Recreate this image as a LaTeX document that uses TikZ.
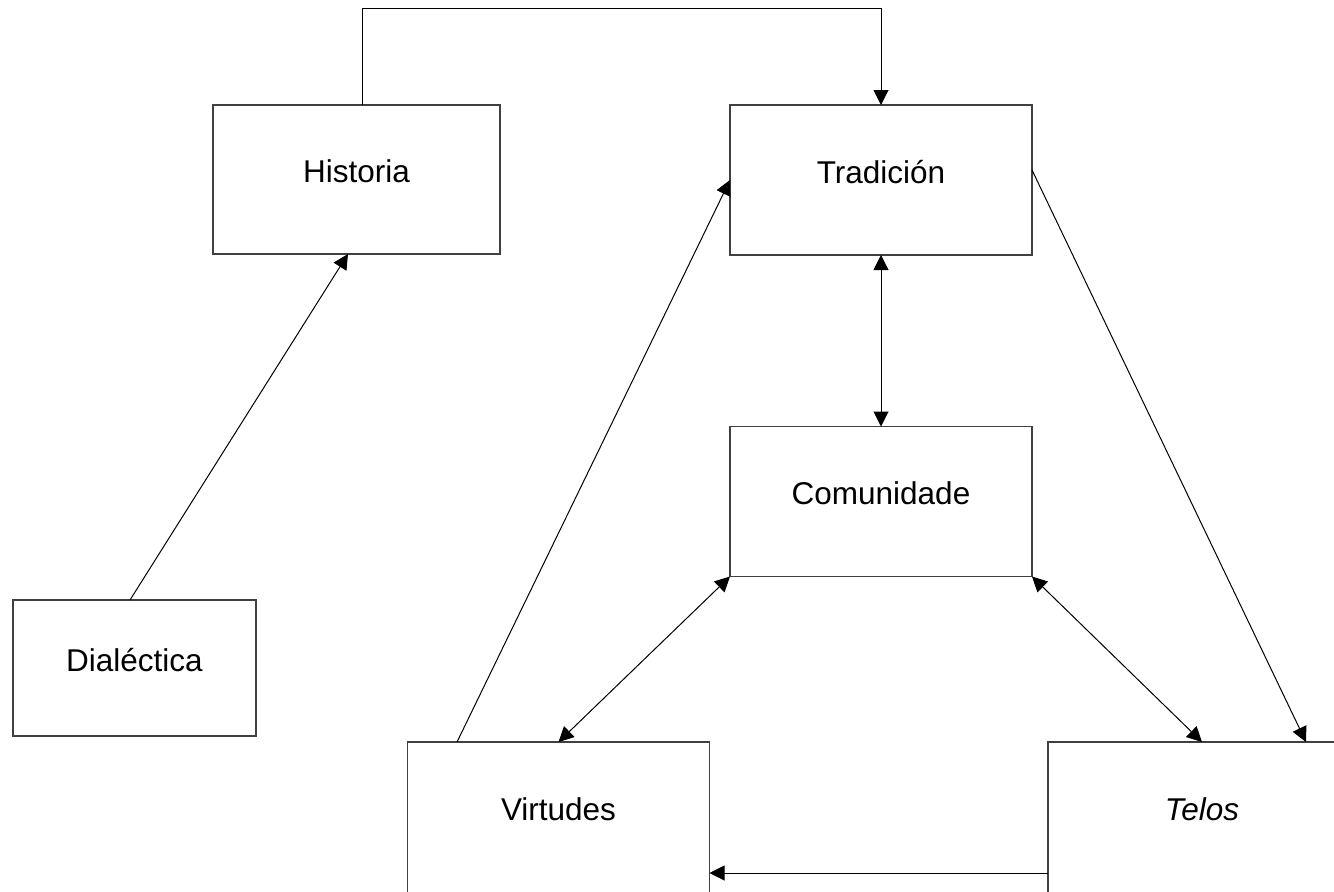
\documentclass[tikz,border=0pt]{standalone}
\usepackage{fontspec}
\setmainfont{Liberation Sans}
\usetikzlibrary{arrows.meta}
\tikzset{%
	>={Triangle[width=15pt,length=15pt]},
	% Specifications for style of nodes:
	base/.style = {rectangle, draw=black!75, line width=1.2pt,
		inner sep=0pt, outer sep=0pt, text depth=16pt,
		font=\fontsize{31.5}{38}\selectfont},
	concept/.style = {base, minimum width=302pt, minimum height=150pt},
	bottomrow/.style = {concept, minimum height=160pt, text depth=26pt},
	link/.style = {draw=black, line width=1pt},
}
\begin{document}
\begin{tikzpicture}[x=1pt, y=-1pt]
		\useasboundingbox (0,0) rectangle (1334,892);
		\clip (0,0) rectangle (1334,892);
		% Specification of nodes (position, etc.)
		\node (historia)   [concept, minimum width=287pt, minimum height=149pt] at (356.5,179.5) {Historia};
		\node (tradicion)  [concept] at (881,180)   {Tradición};
		\node (comunidade) [concept] at (881,501.5) {Comunidade};
		\node (dialectica) [concept, minimum width=243pt, minimum height=136pt] at (134.5,668) {Dialéctica};
		\node (virtudes)   [bottomrow] at (558.5,822) {Virtudes};
		\node (telos)      [bottomrow, minimum width=308pt] at (1202,822) {\itshape Telos};
		\draw[link,->]  ([xshift=5.5pt]historia.north) -- ++(0,-97) -| (tradicion.north);
		\draw[link,->]  ([xshift=-4.5pt]dialectica.north) -- ([xshift=-8.5pt]historia.south);
		\draw[link,->]  ([xshift=-101.5pt]virtudes.north) -- (tradicion.west);
		\draw[link,->]  ([yshift=10pt]tradicion.east) -- ([xshift=104pt]telos.north);
		\draw[link,<->] (tradicion.south) -- (comunidade.north);
		\draw[link,<->] (comunidade.south west) -- (virtudes.north);
		\draw[link,<->] (comunidade.south east) -- (telos.north);
		\draw[link,->]  ([yshift=-51pt]telos.west) -- ([yshift=-51pt]virtudes.east);
	\end{tikzpicture}
\end{document}
